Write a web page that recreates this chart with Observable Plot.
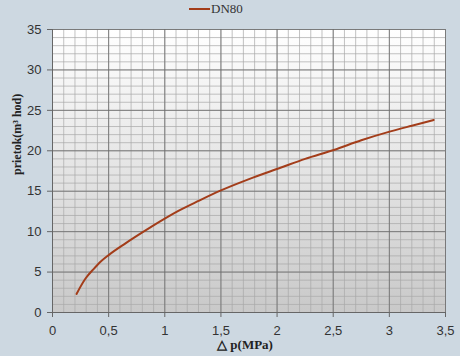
<!DOCTYPE html>
<html>
<head>
<meta charset="utf-8">
<script src="https://cdn.jsdelivr.net/npm/d3@7"></script>
<script src="https://cdn.jsdelivr.net/npm/@observablehq/plot@0.6"></script>
<style>
  html, body { margin: 0; padding: 0; background: #cdd8e1; }
  #wrap { position: relative; width: 460px; height: 356px; background: #cdd8e1; }
  #legend { position: absolute; left: 189px; top: 1px; font: 13px "Liberation Serif", serif; color: #333; display: flex; align-items: center; height: 16px; }
  #legend span.sw { display: inline-block; width: 21px; height: 2px; background: #a33d1a; margin-right: 1px; }
</style>
</head>
<body>
<div id="wrap">
  <div id="legend"><span class="sw"></span><span>DN80</span></div>
</div>
<script>
// Data
const seriesName = "DN80";
const dp = [0.214, 0.294, 0.368, 0.43, 0.50, 0.65, 0.80, 0.962, 1.125, 1.30, 1.50, 1.75, 2.03, 2.25, 2.505, 2.75, 3.01, 3.20, 3.395];
const flow = [2.3, 4.2, 5.4, 6.3, 7.1, 8.55, 9.9, 11.3, 12.6, 13.8, 15.1, 16.5, 17.9, 19.0, 20.1, 21.3, 22.4, 23.1, 23.8];
const xTicks = [0, 0.5, 1, 1.5, 2, 2.5, 3, 3.5];
const yTicks = [0, 5, 10, 15, 20, 25, 30, 35];
const xMinor = d3.range(0, 36).map(i => i / 10);
const yMinor = d3.range(0, 36);
const yLabel = "prietok(m\u00B3 hod)";
const xLabel = "\u25B3 p(MPa)";

const data = dp.map((x, i) => ({x, y: flow[i]}));
const fmt = d => String(d).replace(".", ",");

const chart = Plot.plot({
  width: 460,
  height: 356,
  marginLeft: 52,
  marginRight: 15,
  marginTop: 29,
  marginBottom: 44,
  style: { background: "transparent", fontFamily: "Liberation Sans, Arial, sans-serif", fontSize: "12px", color: "#333" },
  x: { domain: [0, 3.5] },
  y: { domain: [0, 35] },
  marks: [
    Plot.frame({ fill: "url(#plotgrad)", stroke: null }),
    Plot.gridX(xMinor, { stroke: "#a8a8a8", strokeOpacity: 0.7, strokeWidth: 1 }),
    Plot.gridY(yMinor, { stroke: "#a8a8a8", strokeOpacity: 0.7, strokeWidth: 1 }),
    Plot.gridX(xTicks, { stroke: "#6a6a6a", strokeOpacity: 0.8, strokeWidth: 1 }),
    Plot.gridY(yTicks, { stroke: "#6a6a6a", strokeOpacity: 0.8, strokeWidth: 1 }),
    Plot.axisX({ ticks: xTicks, tickFormat: fmt, tickSize: 5, tickPadding: 8, stroke: "#666", label: null, fontSize: 13 }),
    Plot.axisY({ ticks: yTicks, tickFormat: fmt, tickSize: 5, tickPadding: 6, stroke: "#666", label: null, fontSize: 13 }),
    Plot.ruleY([0], { stroke: "#666" }),
    Plot.ruleX([0], { stroke: "#666" }),
    Plot.line(data, { x: "x", y: "y", stroke: "#a33d1a", strokeWidth: 2, curve: "monotone-x" }),
    Plot.text([yLabel], { frameAnchor: "left", dx: -35, dy: 4, rotate: -90, fontWeight: "bold", fontFamily: "Liberation Serif, serif", fontSize: 12, fill: "#222" }),
    Plot.text([xLabel], { frameAnchor: "bottom", dx: -4, dy: 36, fontWeight: "bold", fontFamily: "Liberation Serif, serif", fontSize: 13, fill: "#222" })
  ]
});

// gradient definition for plot area
const svg = d3.select(chart);
const defs = svg.insert("defs", ":first-child");
const g = defs.append("linearGradient").attr("id", "plotgrad").attr("x1", 0).attr("y1", 0).attr("x2", 0).attr("y2", 1);
g.append("stop").attr("offset", "0%").attr("stop-color", "#ffffff");
g.append("stop").attr("offset", "100%").attr("stop-color", "#c9c9c9");

document.getElementById("wrap").prepend(chart);
</script>
</body>
</html>
